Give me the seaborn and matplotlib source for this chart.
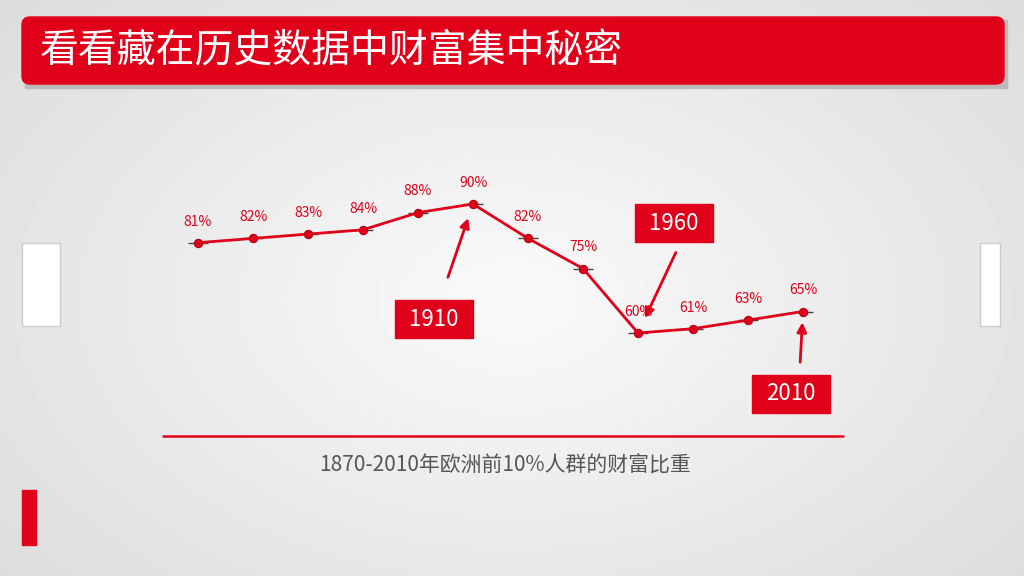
import numpy as np
import pandas as pd
import matplotlib
matplotlib.use("Agg")
import matplotlib.pyplot as plt
from matplotlib.patches import Rectangle, FancyBboxPatch
import seaborn as sns

years = ["1870", "1880", "1890", "1900", "1905", "1910", "1920", "1930", "1960", "1970", "1990", "2010"]
shares = [81, 82, 83, 84, 88, 90, 82, 75, 60, 61, 63, 65]
title = "看看藏在历史数据中财富集中秘密"
caption = "1870-2010年欧洲前10%人群的财富比重"
callouts = [("1910", 5), ("1960", 8), ("2010", 11)]

sns.set_theme(style="white")
plt.rcParams['font.family'] = ['Noto Sans CJK SC', 'DejaVu Sans']
RED = "#e1001a"

fig = plt.figure(figsize=(10.24, 5.76), dpi=100)
# background overlay in pixel coords
bg = fig.add_axes([0, 0, 1, 1])
bg.set_xlim(0, 1024); bg.set_ylim(576, 0); bg.axis("off")
yy, xx = np.mgrid[0:576, 0:1024]
r = np.sqrt(((xx - 512) / 700) ** 2 + ((yy - 300) / 450) ** 2)
bg.imshow(0.98 - 0.12 * r, cmap="gray", vmin=0, vmax=1, extent=[0, 1024, 576, 0], aspect="auto", zorder=0)
bg.add_patch(Rectangle((25, 20), 982, 68, color="#bbbbbb", zorder=1))
bg.add_patch(FancyBboxPatch((22, 17), 982, 67, boxstyle="round,pad=0,rounding_size=8", color=RED, zorder=2))
bg.text(40, 51, title, color="white", fontsize=28, va="center", ha="left", zorder=3)
bg.add_patch(Rectangle((22, 243), 38, 83, color="white", ec="#cccccc", zorder=2))
bg.add_patch(Rectangle((980, 243), 20, 83, color="white", ec="#cccccc", zorder=2))
bg.add_patch(Rectangle((22, 490), 14, 55, color=RED, zorder=2))
bg.plot([163, 843], [436, 436], color=RED, lw=1.8, zorder=2)
bg.text(505, 466, caption, color="#555555", fontsize=15, ha="center", va="center", zorder=3)

# data axes mapped so that index i -> px 198+55i, value v -> px 204+(90-v)*4.3
ax = fig.add_axes([0, 0, 1, 1])
ax.patch.set_alpha(0)
ax.axis("off")
df = pd.DataFrame({"i": range(len(years)), "share": shares})
sns.lineplot(data=df, x="i", y="share", ax=ax, color=RED, lw=2, marker="o", markersize=6,
             markeredgecolor="#b00010", zorder=3)
ax.errorbar(df["i"], df["share"], xerr=0.18, fmt="none", ecolor="#444444", elinewidth=1, zorder=2)
ax.set_xlim(-198 / 55, (1024 - 198) / 55)
ax.set_ylim(90 - 372 / 4.3, 90 + 204 / 4.3)
ax.axis("off")
for i, v in enumerate(shares):
    ax.text(i, v + 3.3, f"{v}%", color=RED, fontsize=10, ha="center", va="bottom")

boxes = {"1910": (434, 319), "1960": (674, 223), "2010": (791, 394)}
starts = {"1910": (447, 280), "1960": (677, 250), "2010": (800, 365)}
for lab, idx in callouts:
    cx, cy = boxes[lab]
    bg.add_patch(Rectangle((cx - 39, cy - 19), 78, 38, color=RED, zorder=4))
    bg.text(cx, cy, lab, color="white", fontsize=16, ha="center", va="center", zorder=5)
    tx = 198 + 55 * idx
    ty = 204 + (90 - shares[idx]) * 4.3
    sx, sy = starts[lab]
    ex = sx + (tx - sx) * 0.85
    ey = sy + (ty - sy) * 0.85
    bg.annotate("", xy=(ex, ey), xytext=(sx, sy),
                arrowprops=dict(arrowstyle="-|>", color=RED, lw=2, mutation_scale=14), zorder=5)

fig.savefig("out.png", dpi=100)
